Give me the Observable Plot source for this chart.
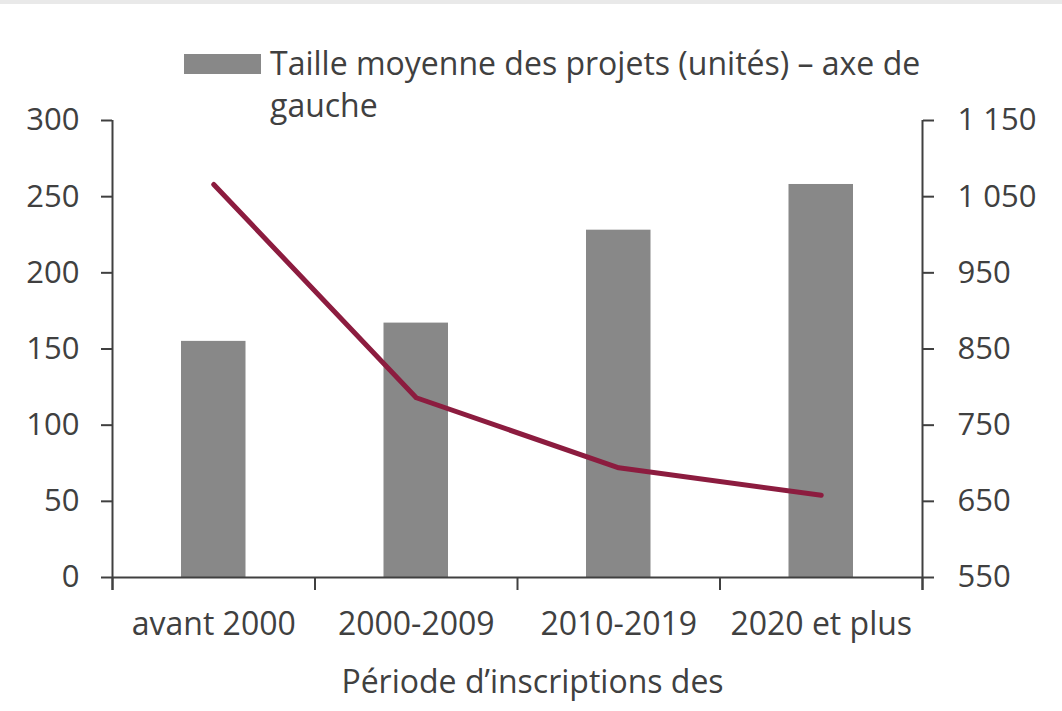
<!DOCTYPE html>
<html><head><meta charset="utf-8">
<script src="https://cdn.jsdelivr.net/npm/d3@7"></script>
<script src="https://cdn.jsdelivr.net/npm/@observablehq/plot@0.6"></script>
<style>
html,body{margin:0;padding:0;background:#fff;}
#wrap{position:relative;width:1062px;height:711px;font-family:"Open Sans",sans-serif;color:#404040;overflow:hidden;}
#topband{position:absolute;left:0;top:0;width:1062px;height:4px;background:#e9e9e9;}
#sw{position:absolute;left:184px;top:54px;width:77px;height:20px;background:#888888;}
#lt{position:absolute;left:270px;top:42px;font-size:32px;line-height:42px;white-space:nowrap;}
#wrap svg{position:absolute;left:0;top:0;}
</style></head><body>
<div id="wrap"><div id="topband"></div><div id="sw"></div><div id="lt"></div></div>
<script>
const categories = ["avant 2000", "2000-2009", "2010-2019", "2020 et plus"];
const tailleMoyenne = [155, 167, 228, 258];
const serieDroite = [1066, 786, 694, 658];
const leftTicks = [0, 50, 100, 150, 200, 250, 300];
const rightTicks = [550, 650, 750, 850, 950, 1050, 1150];
const legendLines = ["Taille moyenne des projets (unités) – axe de", "gauche"];
const xTitle = "Période d’inscriptions des";

const leftDomain = [0, 300];
const rightDomain = [550, 1150];
const toLeft = v => leftDomain[0] + (v - rightDomain[0]) * (leftDomain[1] - leftDomain[0]) / (rightDomain[1] - rightDomain[0]);
const fromLeft = v => rightDomain[0] + (v - leftDomain[0]) * (rightDomain[1] - rightDomain[0]) / (leftDomain[1] - leftDomain[0]);
const fmtRight = v => d3.format(",")(Math.round(v)).replace(/,/g, " ");

const data = categories.map((c, i) => ({i, c, taille: tailleMoyenne[i], droite: serieDroite[i]}));
const ink = "#404040";

const chart = Plot.plot({
  width: 1062, height: 711,
  marginLeft: 112, marginRight: 140, marginTop: 120, marginBottom: 134,
  style: {fontFamily: "'Open Sans', sans-serif", fontSize: "30px", color: ink, background: "transparent", overflow: "visible"},
  x: {domain: [0, categories.length], axis: null},
  y: {domain: leftDomain, axis: null},
  marks: [
    Plot.rectY(data, {x1: "i", x2: d => d.i + 1, y1: 0, y2: "taille", fill: "#888888", insetLeft: 69, insetRight: 69}),
    Plot.line(data, {x: d => d.i + 0.5, y: d => toLeft(d.droite), stroke: "#8c1c3f", strokeWidth: 5, strokeLinecap: "round", strokeLinejoin: "round"}),
    Plot.ruleY([leftDomain[0]], {stroke: ink, strokeWidth: 2}),
    Plot.ruleX([0, categories.length], {stroke: ink, strokeWidth: 2, insetBottom: -13}),
    Plot.axisX(d3.range(categories.length + 1), {tickSize: 13, tickFormat: () => "", stroke: ink, strokeWidth: 2, label: null}),
    Plot.axisX(d3.range(categories.length).map(i => i + 0.5), {tickSize: 0, tickPadding: 35, tickFormat: v => categories[Math.floor(v)], fontSize: 32, fill: ink, label: null}),
    Plot.axisY(leftTicks, {anchor: "left", tickSize: 11, tickPadding: 22, stroke: ink, strokeWidth: 2, fill: ink, fontSize: 31, label: null}),
    Plot.axisY(rightTicks.map(toLeft), {anchor: "right", tickSize: 11, tickPadding: 24, tickFormat: v => fmtRight(fromLeft(v)), stroke: ink, strokeWidth: 2, fill: ink, fontSize: 31, label: null}),
    Plot.text([xTitle], {text: d => d, frameAnchor: "bottom", lineAnchor: "top", dy: 93, dx: 15, fontSize: 32, fill: ink})
  ]
});
document.getElementById("wrap").appendChild(chart);
const lt = document.getElementById("lt");
legendLines.forEach((t, k) => { if (k) lt.appendChild(document.createElement("br")); lt.appendChild(document.createTextNode(t)); });
</script>
</body></html>
